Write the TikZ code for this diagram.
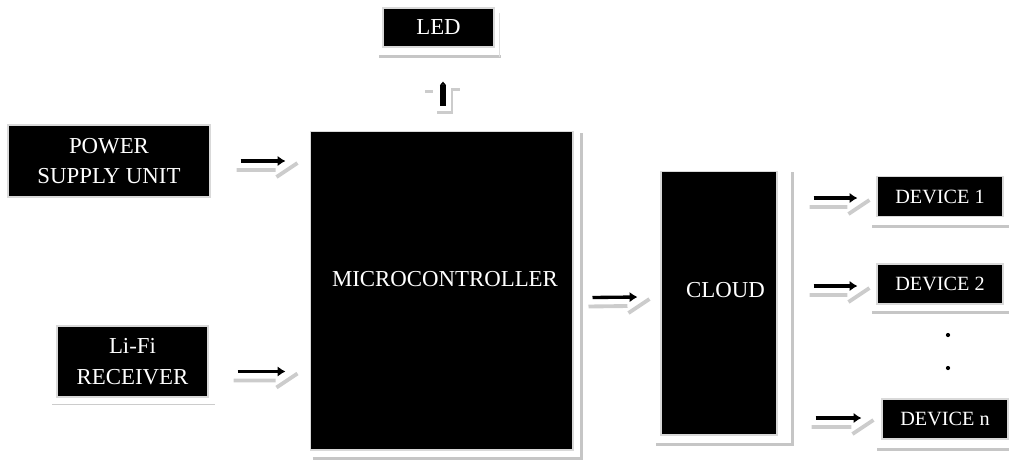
\documentclass[tikz,border=0pt]{standalone}
\usepackage{fontspec}
\setmainfont{Liberation Serif}
\usetikzlibrary{arrows.meta}
\tikzset{block/.style = {draw = gray!30, line width = 0.6pt, fill = black, text = white, align = center, inner sep = 0pt, font = \fontsize{13}{17.5}\selectfont}}
\tikzset{device/.style = {block, minimum width = 2.52cm, minimum height = 0.81cm, font = \fontsize{11.5}{14}\selectfont}}
\tikzset{boxlabel/.style = {text = white, inner sep = 0pt, font = \fontsize{13}{17.5}\selectfont}}
\tikzset{boxshadow/.style = {draw = gray!45, line width = 1.8pt}}
\tikzset{flowline/.style = {-{Latex[length = 4.5pt, width = 6pt]}, line width = 1.9pt}}
\tikzset{flowshadow/.style = {draw = gray!40, line width = 2.2pt}}
\tikzset{dot/.style = {shape = circle, fill, inner sep = 0pt, minimum size = 2.4pt}}

\newcommand{\flowarrow}[2]{%
	\path (#1) coordinate (fs) (#2) coordinate (fe);
	\draw[flowshadow] ([shift = {(-4, 9)}]fs) -- ([shift = {(-10, 9)}]fe)
		([shift = {(-9, 16)}]fe) -- ([shift = {(12, 2)}]fe);
	\draw[flowline] (fs) -- (fe);}

\begin{document}
\begin{tikzpicture}[x = 0.02cm, y = -0.02cm]
				\useasboundingbox (0, 0) rectangle (1009, 461);

				\node[block, minimum width = 2.22cm, minimum height = 0.78cm] (led) at (438.5, 27.5) {LED};
				\node[block, minimum width = 4.04cm, minimum height = 1.44cm] (power) at (109, 161) {POWER\\SUPPLY UNIT};
				\node[block, minimum width = 3.02cm, minimum height = 1.42cm] (lifi) at (132.5, 361.5) {Li-Fi\\RECEIVER};
				\node[block, minimum width = 5.26cm, minimum height = 6.38cm,
					label = {[boxlabel, shift = {(3.5, -11)}]center:MICROCONTROLLER}] (micro) at (441.5, 290.5) {};
				\node[block, minimum width = 2.32cm, minimum height = 5.28cm,
					label = {[boxlabel, shift = {(6.5, -12.5)}]center:CLOUD}] (cloud) at (719, 303) {};
				\node[device] (dev1) at (940, 196.5) {DEVICE 1};
				\node[device, minimum height = 0.80cm] (dev2) at (940, 284) {DEVICE 2};
				\node[device, minimum height = 0.80cm] (devn) at (945, 419) {DEVICE n};
				\node[dot] (dot1) at (948, 335) {};
				\node[dot] (dot2) at (948, 368) {};

				% shadows
				\draw[boxshadow] ([shift = {(-3, 9)}]led.south west) -- ([shift = {(6, 9)}]led.south east);
				\draw[gray!25, line width = 0.8pt] ([shift = {(5, 9)}]led.south east) -- ([shift = {(5, 6)}]led.north east);
				\draw[gray!40, line width = 1pt] ([shift = {(-4, 7)}]lifi.south west) -- ([shift = {(6, 7)}]lifi.south east);
				\draw[boxshadow] ([shift = {(3, 8)}]micro.south west) -- ([shift = {(8, 8)}]micro.south east) -- ([shift = {(8, 2)}]micro.north east);
				\draw[boxshadow] ([shift = {(-4, 9)}]cloud.south west) -- ([shift = {(15, 9)}]cloud.south east) -- ([shift = {(15, 1)}]cloud.north east);
				\draw[boxshadow] ([shift = {(-4, 9)}]dev1.south west) -- ([shift = {(6, 9)}]dev1.south east);
				\draw[boxshadow] ([shift = {(-4, 8)}]dev2.south west) -- ([shift = {(6, 8)}]dev2.south east);
				\draw[boxshadow] ([shift = {(-4, 10)}]devn.south west) -- ([shift = {(1, 10)}]devn.south east);

				% arrows
				\flowarrow{[shift = {(30, 0)}]power.east}{[shift = {(-24, 0)}]micro.west |- power.east}
				\flowarrow{[shift = {(29, 10)}]lifi.east}{[shift = {(-24, 10)}]micro.west |- lifi.east}
				\flowarrow{[shift = {(19, 7)}]micro.east}{[shift = {(-23, -6)}]cloud.west}
				\flowarrow{[shift = {(36, 1.5)}]cloud.east |- dev1.west}{[shift = {(-19, 1.5)}]dev1.west}
				\flowarrow{[shift = {(36, 2)}]cloud.east |- dev2.west}{[shift = {(-19, 2)}]dev2.west}
				\flowarrow{[shift = {(38, -1)}]cloud.east |- devn.west}{[shift = {(-20, -1)}]devn.west}

				\path ([shift = {(1.5, -25)}]micro.north) coordinate (ls) ([shift = {(4.5, 34)}]led.south) coordinate (le);
				\draw[flowshadow, line width = 1.6pt] ([shift = {(-18, -14)}]ls) -- ([shift = {(-10, -14)}]ls)
					([shift = {(-6, 7)}]ls) -- ([shift = {(9, 7)}]ls) -- ([shift = {(9, -16)}]ls) -- ([shift = {(17, -16)}]ls);
				\draw[line width = 3.4pt, -{Latex[length = 2pt, width = 3.8pt]}] (ls) -- (le);
			\end{tikzpicture}
\end{document}
